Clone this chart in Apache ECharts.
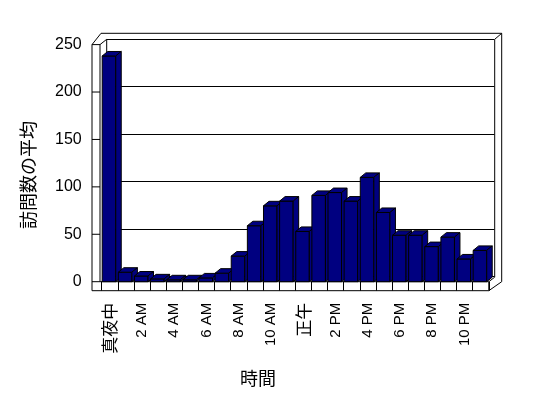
<!DOCTYPE html>
<html>
<head>
<meta charset="utf-8">
<script src="https://cdn.jsdelivr.net/npm/echarts@6/dist/echarts.min.js"></script>
<style>
  html, body { margin: 0; padding: 0; background: #fff; }
  #chart { width: 548px; height: 398px; }
</style>
</head>
<body>
<div id="chart"></div>
<script>
// 時間帯 (0時〜23時)
const hours = ['真夜中', '1 AM', '2 AM', '3 AM', '4 AM', '5 AM', '6 AM', '7 AM', '8 AM', '9 AM', '10 AM', '11 AM',
  '正午', '1 PM', '2 PM', '3 PM', '4 PM', '5 PM', '6 PM', '7 PM', '8 PM', '9 PM', '10 PM', '11 PM']
// 訪問数の平均
const visits = [238, 10, 6, 3, 2, 2, 4, 9, 27, 59, 80, 85,
  53, 91, 94, 85, 110, 73, 49, 49, 37, 47, 24, 33]
const yTicks = [0, 50, 100, 150, 200, 250]

const NAVY = '#000080'
// 奥行き (3D風のずれ)
const DX = 5.5, DY = -4.5

const chart = echarts.init(document.getElementById('chart'))

function renderBar(params, api) {
  const i = api.value(0)
  const v = api.value(1)
  const base = api.coord([i, 0])
  const top = api.coord([i, v])
  const slot = api.size([1, 0])[0]
  const x0 = base[0] - slot / 2 + 0.5
  const w = slot * 0.84
  const y0 = base[1], y1 = top[1]
  const st = { fill: NAVY, stroke: '#000', lineWidth: 1 }
  return {
    type: 'group',
    children: [
      { type: 'polygon', shape: { points: [[x0, y1], [x0 + w, y1], [x0 + w, y0], [x0, y0]] }, style: st },
      { type: 'polygon', shape: { points: [[x0, y1], [x0 + DX, y1 + DY], [x0 + w + DX, y1 + DY], [x0 + w, y1]] }, style: st },
      { type: 'polygon', shape: { points: [[x0 + w, y1], [x0 + w + DX, y1 + DY], [x0 + w + DX, y0 + DY], [x0 + w, y0]] }, style: st }
    ]
  }
}

const option = {
  animation: false,
  grid: [
    // 手前 (棒)
    { left: 101.7, top: 44.6, width: 387.1, height: 237.1 },
    // 奥の壁 (目盛線)
    { left: 106.7, top: 39.3, width: 387.7, height: 237.1 }
  ],
  xAxis: [
    {
      type: 'category', gridIndex: 0, data: hours,
      axisLine: { show: false },
      axisTick: { show: true, interval: 0, length: 9, lineStyle: { color: '#000' } },
      axisLabel: {
        interval: 1, rotate: 90, margin: 21, color: '#000',
        fontFamily: 'Liberation Sans', fontSize: 15,
        formatter: v => /[^\x00-\x7f]/.test(v) ? '{cjk|' + v + '}' : v,
        rich: { cjk: { fontFamily: 'Noto Sans CJK JP', fontSize: 17 } }
      }
    },
    { type: 'category', gridIndex: 1, data: hours, show: false }
  ],
  yAxis: [
    {
      type: 'value', gridIndex: 0, min: 0, max: 250, interval: 50,
      axisLine: { show: false }, axisTick: { show: false }, splitLine: { show: false },
      axisLabel: { margin: 20, color: '#000', fontFamily: 'Liberation Sans', fontSize: 16 }
    },
    {
      type: 'value', gridIndex: 1, min: 0, max: 250, interval: 50,
      axisLine: { show: false }, axisTick: { show: false }, axisLabel: { show: false },
      splitLine: { show: true, lineStyle: { color: '#000', width: 1 } }
    }
  ],
  series: [{
    type: 'custom',
    xAxisIndex: 0, yAxisIndex: 0,
    renderItem: renderBar,
    data: visits.map((v, i) => [i, v]),
    z: 5
  }]
}

chart.setOption(option)

// 枠 (壁と床) を軸の座標から描く
const px = (v) => chart.convertToPixel({ yAxisIndex: 0 }, v)
const L = 92, LI = 100, BL = 106.7, BR = 494.7, OR = 501.7
const F0 = px(0), FB = F0 + 9, TOPF = px(250)
const FR = 101.7 + 387.1
const ln = (x1, y1, x2, y2) => ({
  type: 'line', shape: { x1, y1, x2, y2 }, style: { stroke: '#000', lineWidth: 1 }, z: 1
})
const frame = [
  // 左の壁
  ln(L, TOPF, L, FB), ln(LI, TOPF, LI, F0), ln(L, TOPF, LI, TOPF),
  ln(L, TOPF, 101, 33.3), ln(LI, TOPF, BL, 39.3), ln(BL, 39.3, BL, F0 + DY),
  // 上端
  ln(101, 33.3, OR, 33.3), ln(BR, 39.3, OR, 33.3), ln(BR, 39.3, BR, F0 + DY),
  ln(OR, 33.3, OR, F0),
  // 床
  ln(L, F0, FR, F0), ln(L, FB, FR, FB), ln(FR, F0, FR, FB),
  ln(FR, FB, OR, F0), ln(FR, F0, BR, F0 + DY)
]
yTicks.slice(1, -1).forEach(t => frame.push(ln(L, px(t), LI, px(t))))

chart.setOption({
  graphic: frame.concat([
    {
      type: 'text', x: 258, y: 378, z: 10,
      style: { text: '時間', font: '18px "Noto Sans CJK JP"', fill: '#000', align: 'center', verticalAlign: 'middle' }
    },
    {
      type: 'text', x: 28, y: 175, rotation: Math.PI / 2, z: 10,
      style: { text: '訪問数の平均', font: '18px "Noto Sans CJK JP"', fill: '#000', align: 'center', verticalAlign: 'middle' }
    }
  ])
})
</script>
</body>
</html>
